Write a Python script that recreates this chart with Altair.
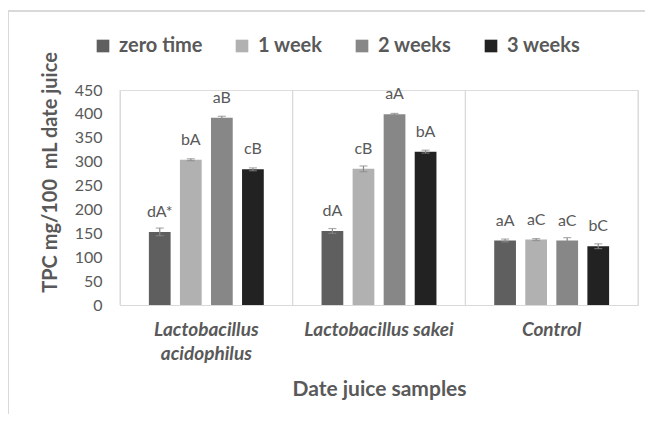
import altair as alt
import pandas as pd

groups = ["Lactobacillus acidophilus", "Lactobacillus sakei", "Control"]
series = ["zero time", "1 week", "2 weeks", "3 weeks"]
values = [
    [153, 304, 392, 284],
    [155, 285, 399, 321],
    [135, 137, 135, 123],
]
errors = [
    [8, 2, 3, 3],
    [5, 6, 2, 3],
    [3, 2, 6, 5],
]
letters = [
    ["dA*", "bA", "aB", "cB"],
    ["dA", "cB", "aA", "bA"],
    ["aA", "aC", "aC", "bC"],
]
colors = ["#5f5f5f", "#b1b1b1", "#878787", "#222222"]
y_ticks = [0, 50, 100, 150, 200, 250, 300, 350, 400, 450]

rows = []
for gi, g in enumerate(groups):
    for si, s in enumerate(series):
        v = values[gi][si]
        e = errors[gi][si]
        rows.append({"group": g, "series": s, "value": v, "lo": v - e, "hi": v + e,
                     "label": letters[gi][si]})
df = pd.DataFrame(rows)

FONT = "Lato"
TXT = "#595959"

xscale = alt.Scale(paddingInner=0, paddingOuter=0)
xaxis = alt.Axis(title="Date juice samples", labelAngle=0, ticks=False, domain=True,
                 domainColor="#d9d9d9", grid=False,
                 labelFont=FONT, labelFontSize=19, labelFontWeight="bold",
                 labelFontStyle="italic", labelColor=TXT, labelLineHeight=24,
                 labelPadding=15, labelBaseline="top", labelAlign="center",
                 labelExpr="datum.label == 'Lactobacillus acidophilus' ? ['Lactobacillus','acidophilus'] : datum.label",
                 titleFont=FONT, titleFontSize=21, titleFontWeight="bold", titleColor=TXT,
                 titleY=84, titleBaseline="middle")
yaxis = alt.Axis(title="TPC mg/100\u00a0 mL date juice", values=y_ticks, tickCount=10,
                 grid=False, ticks=False, domain=False, labelOverlap=False,
                 labelFont=FONT, labelFontSize=16, labelColor=TXT, labelPadding=18,
                 titleFont=FONT, titleFontSize=20, titleFontWeight="bold", titleColor=TXT,
                 titleX=-70, titleY=82, titleBaseline="middle")
yscale = alt.Scale(domain=[0, 450], nice=False)

def X(band=None):
    if band is None:
        return alt.X("group:N", sort=groups, scale=xscale, axis=xaxis)
    return alt.X("group:N", sort=groups, scale=xscale, axis=xaxis, bandPosition=band)

def Y(field):
    return alt.Y(field, scale=yscale, axis=yaxis)

xoff = alt.XOffset("series:N", sort=series,
                   scale=alt.Scale(paddingInner=0.3, paddingOuter=0.93))

base = alt.Chart(df)

bars = base.mark_bar().encode(
    x=X(),
    xOffset=xoff,
    y=Y("value:Q"),
    color=alt.Color("series:N", sort=series, scale=alt.Scale(domain=series, range=colors),
                    legend=alt.Legend(title=None, orient="none", direction="horizontal",
                                      legendX=-27, legendY=-54,
                                      symbolType="square", symbolSize=160, symbolStrokeWidth=0,
                                      labelFont=FONT, labelFontSize=20, labelFontWeight="bold",
                                      labelColor=TXT, columnPadding=29, labelOffset=6)),
)

err = base.mark_rule(color="#8a8a8a", strokeWidth=1.2).encode(
    x=X(), xOffset=xoff, y=Y("lo:Q"), y2="hi:Q")
cap_lo = base.mark_tick(color="#8a8a8a", size=8, thickness=1.2, orient="horizontal").encode(
    x=X(), xOffset=xoff, y=Y("lo:Q"))
cap_hi = base.mark_tick(color="#8a8a8a", size=8, thickness=1.2, orient="horizontal").encode(
    x=X(), xOffset=xoff, y=Y("hi:Q"))

text = base.mark_text(font=FONT, fontSize=16, color=TXT, baseline="middle", dy=-20).encode(
    x=X(), xOffset=xoff, y=Y("value:Q"), text="label:N")

gdf = pd.DataFrame({"group": groups})
sep0 = alt.Chart(gdf).mark_rule(color="#d9d9d9", strokeWidth=1).encode(x=X(0))
sep1 = alt.Chart(gdf).mark_rule(color="#d9d9d9", strokeWidth=1).encode(x=X(1))

border = alt.Chart(gdf).mark_rect(fill="white", fillOpacity=0, stroke="#d9d9d9",
                                  strokeWidth=1.5).encode(
    x=alt.value(-112), x2=alt.value(700), y=alt.value(-79), y2=alt.value(500))

chart = alt.layer(border, sep0, sep1, bars, err, cap_lo, cap_hi, text).properties(
    width=518, height=215,
    autosize=alt.AutoSizeParams(type="none"),
    padding={"left": 112, "top": 82, "right": 7, "bottom": 109},
).configure_view(strokeWidth=0).configure(background="white")

chart.save("out.html", embed_options={"renderer": "svg", "actions": False})
